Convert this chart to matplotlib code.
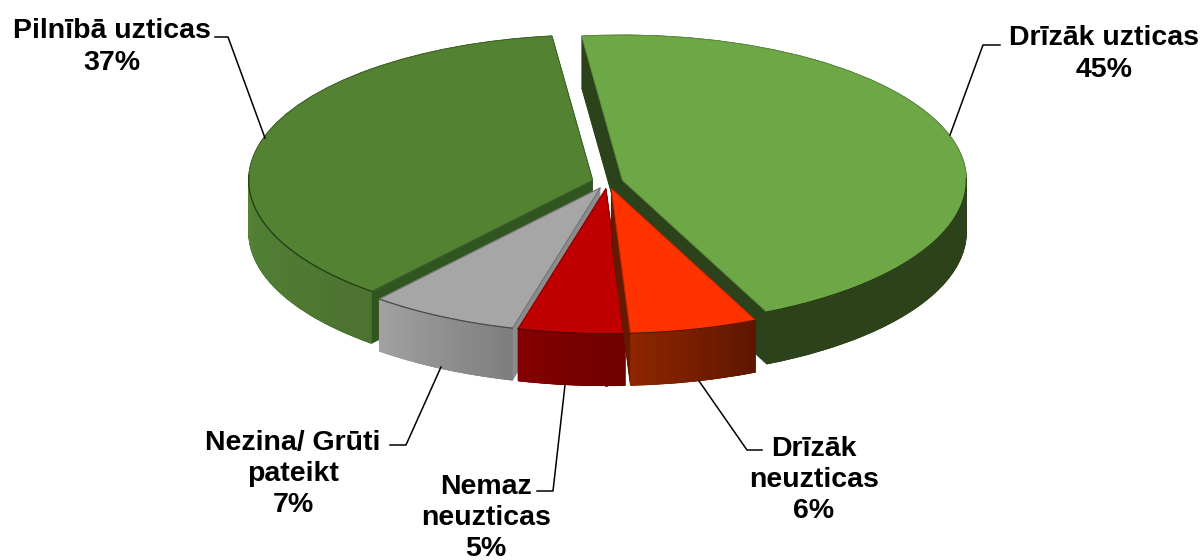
import numpy as np
import matplotlib
matplotlib.use('Agg')
import matplotlib.pyplot as plt
from matplotlib.colors import to_rgb

plt.rcParams['font.family'] = ['Liberation Sans', 'DejaVu Sans']

categories = ['Drīzāk uzticas', 'Drīzāk\nneuzticas', 'Nemaz\nneuzticas',
              'Nezina/ Grūti\npateikt', 'Pilnībā uzticas']
values = [45, 6, 5, 7, 37]

top_colors = ['#6EA846', '#FF3300', '#C00000', '#A6A6A6', '#548233']
cut_colors = ['#2C421B', '#641900', '#7A0000', '#8C8C8C', '#30551E']
rim_left = ['#2C421B', '#8F2600', '#850000', '#A2A2A2', '#568436']
rim_right = ['#2C421B', '#5E1600', '#6E0000', '#7E7E7E', '#4C7330']
edge_colors = ['#5E8F3C', '#C42800', '#8E0000', '#6E6E6E', '#3F6426']
front_line = ['#22330F', '#5A1500', '#500000', '#4A4A4A', '#1F3A12']

# draw order, back slices first
order = [4, 0, 3, 2, 1]

W, H = 1203, 560
SQ = 0.422
R = 344
CX, CY = 607.5, 182
DEPTH = 52
EXPL = 0.045
START = 96.8


def yd(py):
    return (H - py) / SQ


fig = plt.figure(figsize=(W / 100, H / 100), dpi=100)
ax = fig.add_axes([0, 0, 1, 1])

# pie takes explode in data units
explode = [EXPL * R] * len(values)

# side walls: a stack of pies going downwards
for k in np.arange(DEPTH, -1, -2):
    wedges, _ = ax.pie(values, explode=explode, radius=R, startangle=START,
                       counterclock=False, center=(CX, yd(CY + k)))
    for i, w in enumerate(wedges):
        w.set_facecolor(cut_colors[i])
        w.set_edgecolor(cut_colors[i])
        w.set_linewidth(0.6)
        w.set_zorder(2 + order.index(i) * 10)

# outer rim with left-right shading, then the top faces
edges = np.concatenate([[0], np.cumsum(values)]) / sum(values) * 360 - (START - 90)
for i in range(len(values)):
    z = 2 + order.index(i) * 10
    mid = np.radians((edges[i] + edges[i + 1]) / 2)
    ox = CX + EXPL * R * np.sin(mid)
    oy = CY - EXPL * R * SQ * np.cos(mid)
    th = np.radians(np.linspace(edges[i], edges[i + 1], 60))
    th = th[np.cos(th) < 0.05]
    c0, c1 = np.array(to_rgb(rim_left[i])), np.array(to_rgb(rim_right[i]))
    for j in range(len(th) - 1):
        x = ox + R * np.sin(th[j:j + 2])
        y = oy - R * SQ * np.cos(th[j:j + 2])
        f = 1 - j / max(len(th) - 2, 1)
        col = c0 + (c1 - c0) * f
        ax.fill(np.r_[x, x[::-1]],
                yd(np.r_[y, y[::-1] + DEPTH]),
                facecolor=col, edgecolor=col, lw=0.5, zorder=z + 1)
    # thin dark line where the top meets the rim
    ax.plot(ox + R * np.sin(th), yd(oy - R * SQ * np.cos(th)),
            color=front_line[i], lw=0.8, zorder=z + 3)

wedges, _ = ax.pie(values, explode=explode, radius=R, startangle=START,
                   counterclock=False, center=(CX, yd(CY)))
for i, w in enumerate(wedges):
    w.set_facecolor(top_colors[i])
    w.set_edgecolor(edge_colors[i])
    w.set_linewidth(0.7)
    w.set_zorder(4 + order.index(i) * 10)

ax.set_aspect('auto')
ax.set_xlim(0, W)
ax.set_ylim(0, H / SQ)
ax.axis('off')

# labels with leader lines
label_pos = [(1104, 54), (814, 480), (486, 518), (293, 474), (112, 47)]
leaders = [
    ([950, 983, 1000], [135, 45, 45]),
    ([699, 747, 762], [381, 450, 450]),
    ([565, 553, 537], [385, 491, 491]),
    ([441, 406, 390], [367, 445, 445]),
    ([265, 228, 215], [138, 37, 37]),
]
for i, cat in enumerate(categories):
    lx, ly = leaders[i]
    ax.plot(lx, yd(np.array(ly)), color='black', lw=1.1, zorder=100)
    ax.text(label_pos[i][0], yd(label_pos[i][1]), f'{cat}\n{values[i]}%',
            ha='center', va='center', fontsize=20.5, fontweight='bold',
            linespacing=1.27, color='black', zorder=101)

fig.savefig('out.png', dpi=100)
